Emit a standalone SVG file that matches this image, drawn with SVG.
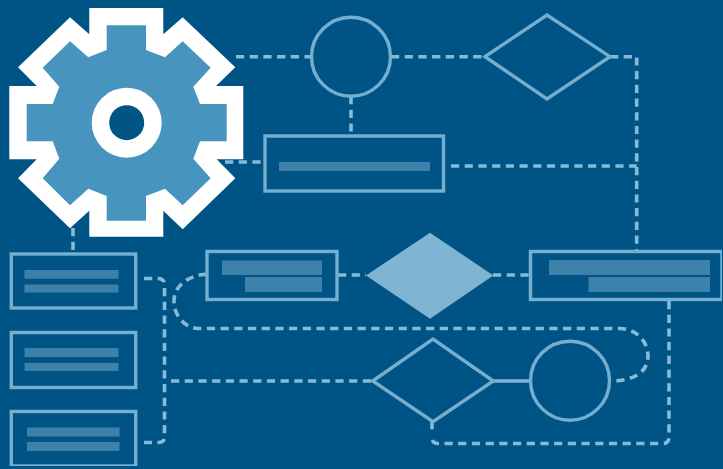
<svg xmlns="http://www.w3.org/2000/svg" width="723" height="469" viewBox="0 0 723 469">
<style>
.box{fill:none;stroke:#74afcf;stroke-width:3.4}
.bar{fill:#3d81aa}
.dash{fill:none;stroke:#86bad6;stroke-width:3.6;stroke-dasharray:8.2 5.5}
.solid{fill:none;stroke:#7fb5d3;stroke-width:3.4}
</style>
<defs><filter id="soft" x="0" y="0" width="100%" height="100%"><feGaussianBlur stdDeviation="0.55"/></filter></defs>
<rect width="723" height="469" fill="#005485"/>
<g filter="url(#soft)">
<g id="connectors">
<path class="dash" d="M236,56.7H311"/>
<path class="dash" d="M391,56.7H485"/>
<path class="dash" d="M610,56.7H636.7V250"/>
<path class="dash" d="M451,166H636.7"/>
<path class="dash" d="M351,96V135"/>
<path class="dash" d="M225,162H264"/>
<path class="dash" d="M73,228V253"/>
<path class="dash" d="M144,278.5H158Q164.5,278.5 164.5,285V437Q164.5,442.5 158,442.5H144"/>
<path class="dash" d="M171,381H372"/>
<path class="dash" d="M207,274.5H203C185,277 174,288 174,301C174,316 185,328 198,328.5H620C637,329 648,342 648,356C648,370 637,381 610,381"/>
<path class="dash" d="M338,275H366"/>
<path class="dash" d="M493,275H529"/>
<path class="solid" d="M493,381H530"/>
<path class="dash" d="M669,301V437Q669,443.5 663,443.5H438Q432,443.5 432,437"/>
<path class="dash" d="M432,421V430"/>
</g>
<g id="gear">
<polygon fill="#fff" points="89.3,8 163.3,8 163.3,34.3 182.7,17.3 235.3,67.3 216,86 243.3,86 243.3,159.3 216.7,159.3 235.3,178.3 182.7,229.3 163.3,210.7 163.3,236.7 89.3,236.7 89.3,210.7 70,228.3 18,178.3 36.7,159.3 9.3,159.3 9.3,86 36.7,86 18,67.3 70,17.3 89.3,34.3"/>
<polygon fill="#4795bf" points="106.7,25.3 146,25.3 146,50 165,57.3 182.7,41.3 210.7,67.7 193.3,86.7 200,104 226.7,104 226.7,141.3 200,141.3 193.3,158.7 210.7,178.3 182.7,205.3 165,188.7 146,196 146,220.7 106.7,220.7 106.7,196 88.3,188.7 70,205.3 42.7,178.3 59.3,158.7 52.7,141.3 26.7,141.3 26.7,104 52.7,104 59.3,86.7 42.7,67.7 70,41.3 88.3,57.3 106.7,50"/>
<circle cx="126.7" cy="122.7" r="35" fill="#fff"/>
<circle cx="126.7" cy="122.7" r="17.5" fill="#005485"/>
</g>
<g id="circle-top"><circle class="box" cx="351" cy="56.7" r="39.5"/></g>
<g id="diamond-top"><polygon class="box" points="485,56.7 547,15 610,56.7 547,99"/></g>
<g id="box-top"><rect class="box" x="265" y="136" width="178.5" height="55"/><rect class="bar" x="279" y="162" width="151" height="9"/></g>
<g id="box-left-1"><rect class="box" x="11.3" y="254" width="124.4" height="54"/><rect class="bar" x="24.5" y="270" width="94" height="8.7"/><rect class="bar" x="24.5" y="284.5" width="94" height="8"/></g>
<g id="box-left-2"><rect class="box" x="11.3" y="332.5" width="124.4" height="55"/><rect class="bar" x="24.5" y="348" width="94" height="9"/><rect class="bar" x="24.5" y="363" width="94" height="8"/></g>
<g id="box-left-3"><rect class="box" x="11.3" y="411.5" width="124.4" height="54.5"/><rect class="bar" x="27" y="427.5" width="92.5" height="9"/><rect class="bar" x="27" y="442" width="92.5" height="9"/></g>
<g id="box-mid"><rect class="box" x="207" y="251.5" width="130" height="48"/><rect class="bar" x="222" y="260.5" width="100" height="14.5"/><rect class="bar" x="245" y="277" width="77" height="15"/></g>
<g id="diamond-solid"><polygon fill="#7fb5d3" points="366,275.5 430,232.7 493.3,275.5 430,318.7"/></g>
<g id="box-right"><rect class="box" x="530.5" y="251.5" width="191.5" height="48"/><rect class="bar" x="549" y="260" width="161" height="15"/><rect class="bar" x="588.5" y="277" width="121.5" height="15"/></g>
<g id="diamond-low"><polygon class="box" points="372.7,381 433,339 493.3,381 433,421.7"/></g>
<g id="circle-low"><circle class="box" cx="570" cy="380.7" r="39.5"/></g>
</g>
</svg>
